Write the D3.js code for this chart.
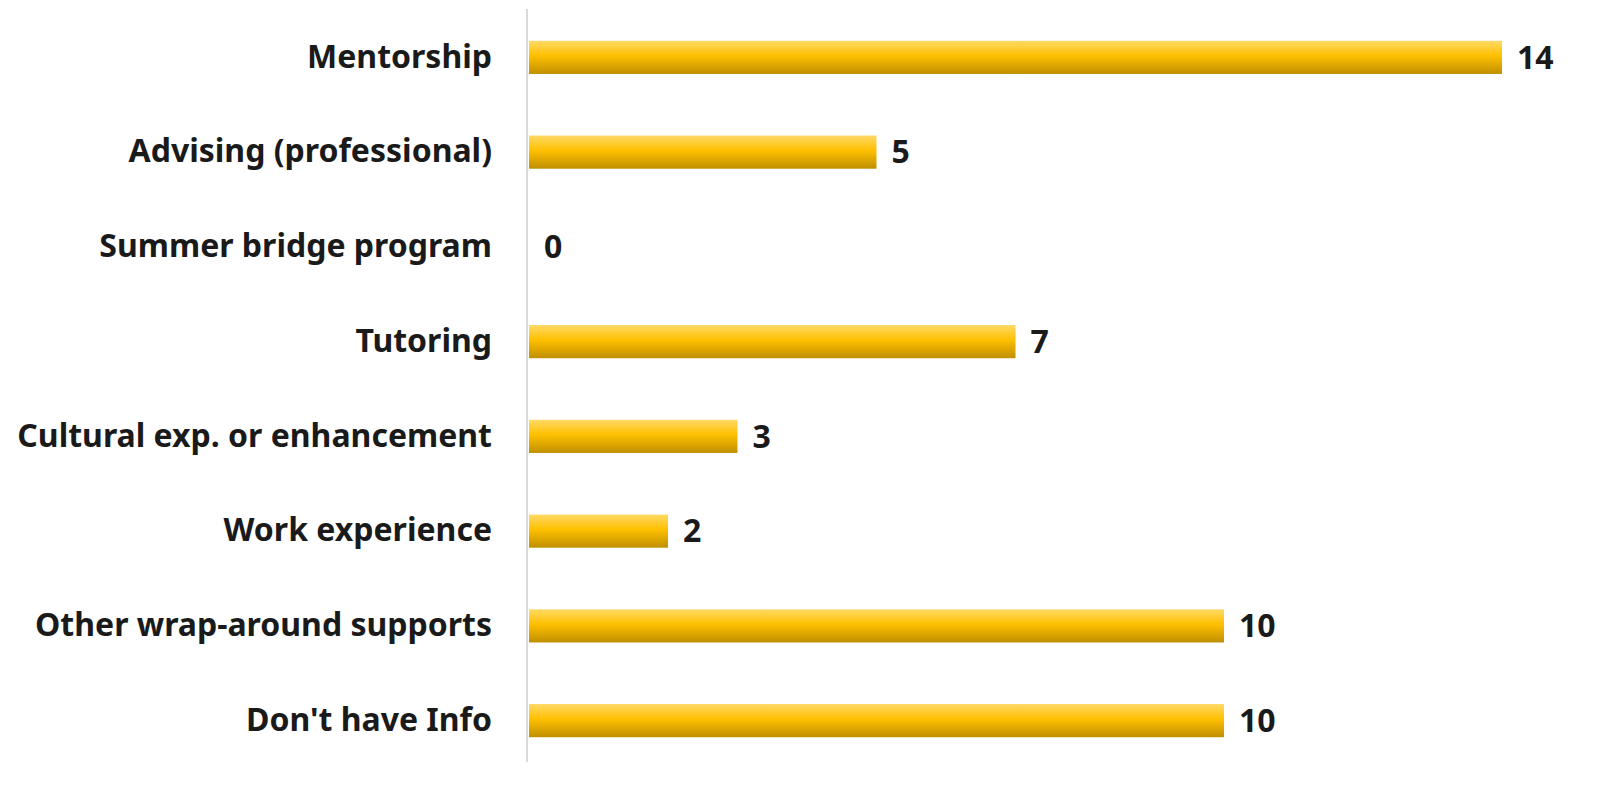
<!DOCTYPE html>
<html>
  <head>
    <script src="https://d3js.org/d3.v7.min.js"></script>
    <style>
      body {margin:0; background:white;}
      text {font-family: "Noto Sans", sans-serif; font-weight: bold; fill: #1a1a1a;}
    </style>
  </head>
  <body>
    <script>
      const categories = ['Mentorship', 'Advising (professional)', 'Summer bridge program', 'Tutoring',
        'Cultural exp. or enhancement', 'Work experience', 'Other wrap-around supports', "Don't have Info"];
      const values = [14, 5, 0, 7, 3, 2, 10, 10];

      const width = 1619;
      const height = 786;
      const margin = {top: 10, left: 529, bottom: 18, right: 117};

      const data = categories.map((c, i) => ({name: c, value: values[i]}));

      const x = d3.scaleLinear()
        .domain([0, 14])
        .range([margin.left, width - margin.right]);

      const y = d3.scaleBand()
        .domain(categories)
        .range([margin.top, height - margin.bottom])
        .paddingInner(0.65)
        .paddingOuter(0.325);

      const svg = d3.select('body').append('svg')
        .attr('width', width).attr('height', height);

      const grad = svg.append('defs').append('linearGradient')
        .attr('id', 'barGrad')
        .attr('x1', 0).attr('y1', 0).attr('x2', 0).attr('y2', 1);
      grad.append('stop').attr('offset', '0%').attr('stop-color', '#ffd966');
      grad.append('stop').attr('offset', '45%').attr('stop-color', '#ffc000');
      grad.append('stop').attr('offset', '100%').attr('stop-color', '#bf8f00');

      // category axis
      const yAxis = g => g
        .attr('transform', `translate(${margin.left - 2}, 0)`)
        .call(d3.axisLeft(y).tickSize(0).tickPadding(35))
        .call(g => g.select('.domain').attr('d', `M0,9V${height - 24}`)
          .attr('stroke', '#d9d9d9').attr('stroke-width', 2))
        .call(g => g.selectAll('text').attr('font-size', 32)
          .attr('font-family', null).attr('fill', null));

      svg.append('g').call(yAxis);

      svg.append('g')
        .selectAll('rect').data(data).enter().append('rect')
        .attr('x', x(0))
        .attr('y', d => y(d.name))
        .attr('width', d => x(d.value) - x(0))
        .attr('height', y.bandwidth())
        .attr('fill', 'url(#barGrad)');

      svg.append('g')
        .selectAll('text').data(data).enter().append('text')
        .attr('x', d => x(d.value) + 15)
        .attr('y', d => y(d.name) + y.bandwidth() / 2)
        .attr('dy', '0.35em')
        .attr('font-size', 32)
        .text(d => d.value);
    </script>
  </body>
</html>
